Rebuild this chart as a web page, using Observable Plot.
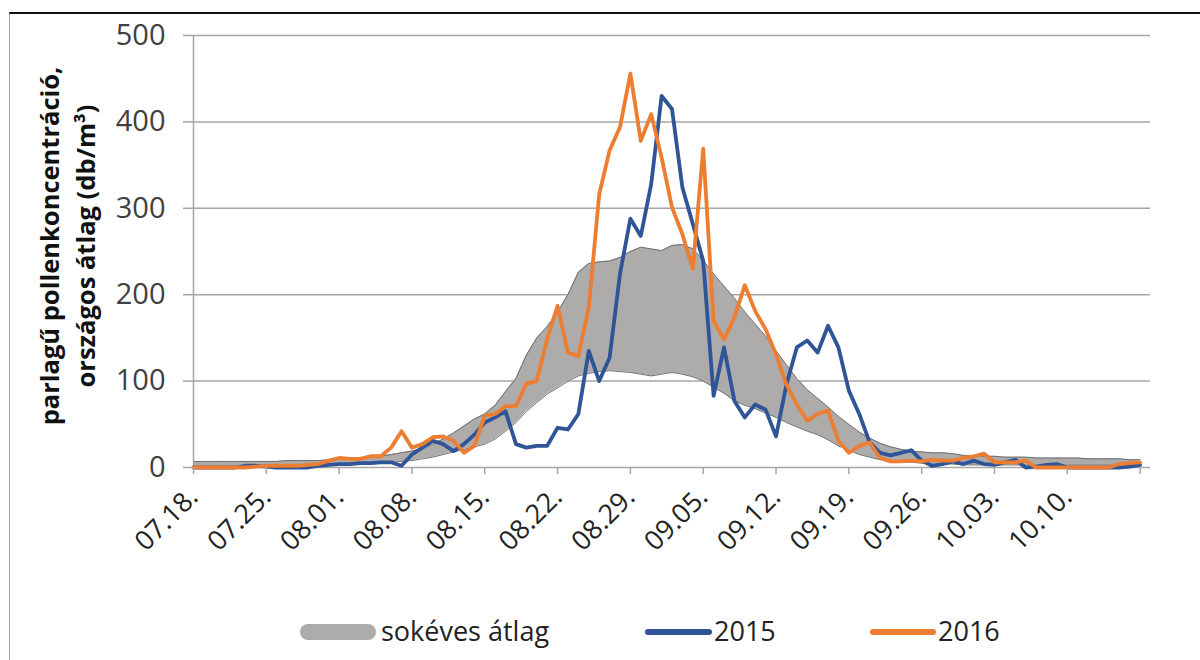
<!DOCTYPE html>
<html>
<head>
<meta charset="utf-8">
<script src="https://cdn.jsdelivr.net/npm/d3@7"></script>
<script src="https://cdn.jsdelivr.net/npm/@observablehq/plot@0.6"></script>
<style>
  html, body { margin: 0; padding: 0; background: #fff; }
  #wrap { position: relative; width: 1200px; height: 660px; overflow: hidden; font-family: "Open Sans", sans-serif; }
  #frame { position: absolute; left: 9px; top: 12px; width: 1200px; height: 660px; border-top: 2.5px solid #111; border-left: 1px solid #a0a0a0; }
  #chart { position: absolute; left: 0; top: 0; }
  #ytitle { position: absolute; left: 67px; top: 246px; width: 460px; transform: translate(-50%, -50%) rotate(-90deg);
            text-align: center; font-weight: 700; font-size: 25.5px; line-height: 36px; color: #111; white-space: nowrap; }
  .lg { position: absolute; }
  .lgt { position: absolute; top: 611px; font-size: 27px; line-height: 40px; color: #222; white-space: nowrap; }
</style>
</head>
<body>
<div id="wrap">
  <div id="frame"></div>
  <div id="chart"></div>
  <div id="ytitle">parlagű pollenkoncentráció,<br>országos átlag (db/m³)</div>
  <div id="legend"></div>
</div>
<script>
// ---- data (daily values from 07.18.) ----
const startDate = [2016, 6, 18];
const avgHigh = [7,7,7,7,7,7,7,7,7,8,
  8,8,8,9,10,10,11,12,13,15,
  17,19,22,27,33,40,48,56,62,72,
  88,103,130,150,163,180,200,226,236,238,
  239,243,250,255,253,251,257,258,253,240,
  224,210,196,180,166,152,135,119,103,90,
  80,70,59,50,41,34,28,24,21,19,
  18,17,17,16,14,14,13,13,12,12,
  12,11,11,11,11,11,10,10,10,10,
  9,9];
const avgLow = [1,1,1,1,1,1,1,1,1,1,
  1,2,2,2,3,3,4,4,5,6,
  7,8,10,12,15,18,21,24,27,33,
  42,52,65,75,85,92,100,106,109,111,
  112,111,110,108,106,108,110,108,105,100,
  93,86,77,72,68,63,58,52,47,42,
  38,32,25,20,15,12,9,8,7,6,
  5,4,4,4,3,3,3,3,3,3,
  3,3,3,3,3,3,3,3,3,3,
  3,3];
const y2015 = [0,0,0,0,0,2,2,1,0,0,
  0,0,2,3,4,4,5,5,6,6,
  2,15,23,31,27,19,27,38,52,58,
  65,27,23,25,25,46,44,62,135,100,
  127,224,288,268,328,430,415,324,282,239,
  83,139,77,58,73,67,36,96,139,147,
  133,164,139,89,62,29,17,14,17,20,
  8,2,4,7,4,8,4,3,6,9,
  0,1,3,4,0,0,0,0,0,0,
  1,3];
const y2016 = [0,0,0,0,0,0,1,2,2,2,
  2,3,4,8,11,10,10,13,13,23,
  42,23,27,35,36,31,17,25,60,62,
  71,71,97,100,149,187,133,129,185,316,
  367,394,456,378,409,359,301,270,230,369,
  170,148,174,211,181,160,131,96,73,54,
  62,66,31,17,25,29,11,7,7,8,
  7,9,8,8,11,13,16,6,6,6,
  8,0,0,0,0,0,0,0,0,4,
  5,6];
const tickLabels = ["07.18.","07.25.","08.01.","08.08.","08.15.","08.22.","08.29.","09.05.","09.12.","09.19.","09.26.","10.03.","10.10."];
const yTicks = [0, 100, 200, 300, 400, 500];
const seriesNames = ["sokéves átlag", "2015", "2016"];
const colors = { band: "#aeabab", bandEdge: "#6f6f6f", s2015: "#2f5597", s2016: "#ed7d31", grid: "#a6a6a6" };

const day = i => new Date(Date.UTC(startDate[0], startDate[1], startDate[2] + i));
const data = avgHigh.map((h, i) => ({ date: day(i), high: h, low: avgLow[i], a: y2015[i], b: y2016[i] }));
const tickDates = d3.range(tickLabels.length + 1).map(k => day(7 * k));

const chart = Plot.plot({
  width: 1200, height: 590,
  marginLeft: 193, marginRight: 50, marginTop: 35, marginBottom: 123,
  style: { fontFamily: "'Open Sans', sans-serif", background: "transparent", overflow: "visible" },
  x: { type: "utc", domain: [day(0), day(92)] },
  y: { domain: [0, 500] },
  marks: [
    Plot.ruleY(yTicks.slice(1), { stroke: colors.grid, strokeWidth: 1.5 }),
    Plot.areaY(data, { x: "date", y1: "low", y2: "high", fill: colors.band }),
    Plot.lineY(data, { x: "date", y: "high", stroke: colors.bandEdge, strokeWidth: 1 }),
    Plot.lineY(data, { x: "date", y: "low", stroke: colors.bandEdge, strokeWidth: 1 }),
    Plot.ruleY([0], { stroke: colors.grid, strokeWidth: 1.5 }),
    Plot.ruleX([day(0)], { stroke: colors.grid, strokeWidth: 1.5 }),
    Plot.lineY(data, { x: "date", y: "a", stroke: colors.s2015, strokeWidth: 3.8, strokeLinejoin: "round" }),
    Plot.lineY(data, { x: "date", y: "b", stroke: colors.s2016, strokeWidth: 3.8, strokeLinejoin: "round" }),
    Plot.axisY({ ticks: yTicks, tickSize: 10, tickPadding: 18, fontSize: 29, stroke: colors.grid, strokeWidth: 1.5, fill: "#404040", label: null }),
    Plot.axisX({ ticks: tickDates, tickSize: 7, tickPadding: 18, tickRotate: -45, fontSize: 27,
                 tickFormat: (d, i) => i < tickLabels.length ? tickLabels[i] : "",
                 stroke: colors.grid, strokeWidth: 1.5, fill: "#222", label: null })
  ]
});
document.getElementById("chart").appendChild(chart);

// legend
const lg = document.getElementById("legend");
const items = [
  { name: seriesNames[0], sw: { left: 300, top: 624, width: 76, height: 16, r: 8, c: colors.band }, tx: 381 },
  { name: seriesNames[1], sw: { left: 645, top: 629, width: 67, height: 6, r: 3, c: colors.s2015 }, tx: 714 },
  { name: seriesNames[2], sw: { left: 870, top: 629, width: 66, height: 6, r: 3, c: colors.s2016 }, tx: 938 }
];
for (const it of items) {
  const s = document.createElement("div");
  s.className = "lg";
  Object.assign(s.style, { left: it.sw.left + "px", top: it.sw.top + "px", width: it.sw.width + "px", height: it.sw.height + "px", borderRadius: it.sw.r + "px", background: it.sw.c });
  lg.appendChild(s);
  const t = document.createElement("div");
  t.className = "lgt";
  t.style.left = it.tx + "px";
  t.textContent = it.name;
  lg.appendChild(t);
}
</script>
</body>
</html>
